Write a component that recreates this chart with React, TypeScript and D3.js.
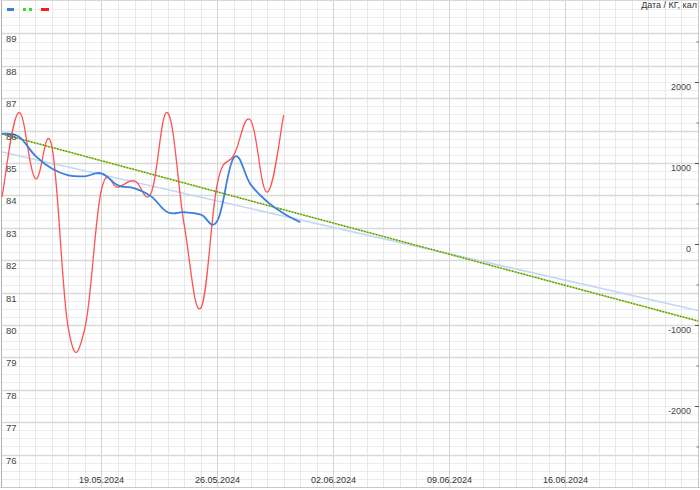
import React from "react";
import * as d3 from "d3";

// ---------- data ----------
const weightDates = [
  "13.05.2024", "14.05.2024", "15.05.2024", "16.05.2024", "17.05.2024", "18.05.2024",
  "19.05.2024", "20.05.2024", "21.05.2024", "22.05.2024", "23.05.2024", "24.05.2024",
  "25.05.2024", "26.05.2024", "27.05.2024", "28.05.2024", "29.05.2024", "30.05.2024",
  "31.05.2024",
];
const weightValues = [
  85.91, 85.82, 85.23, 84.83, 84.62, 84.59, 84.68, 84.31, 84.22, 83.97, 83.48, 83.48,
  83.41, 83.22, 85.17, 84.34, 83.81, 83.44, 83.17,
];
const calorieDates = weightDates.slice(0, 18);
const calorieValues = [
  580, 1620, 810, 1210, -1040, -1040, 670, 700, 780, 630, 1620, 230, -790, 750, 1100,
  1530, 640, 1590,
];
const trendDates = ["13.05.2024", "24.06.2024"];
const weightTrend = [85.34, 80.45];
const calorieTrend = [1358, -951];

const xTickLabels = ["19.05.2024", "26.05.2024", "02.06.2024", "09.06.2024", "16.06.2024"];
const leftTicks = [76, 77, 78, 79, 80, 81, 82, 83, 84, 85, 86, 87, 88, 89];
const rightTicks = [-2000, -1000, 0, 1000, 2000];
const title = "Дата / КГ, кал";

// ---------- helpers ----------
const parse = d3.timeParse("%d.%m.%Y");

// cubic bezier smoothing (intensity 0.2) as a d3 curve factory
function cubicCurve(context: any) {
  let pts: [number, number][] = [];
  const k = 0.2;
  return {
    areaStart() {},
    areaEnd() {},
    lineStart() {
      pts = [];
    },
    point(x: number, y: number) {
      pts.push([+x, +y]);
    },
    lineEnd() {
      const n = pts.length;
      if (!n) return;
      context.moveTo(pts[0][0], pts[0][1]);
      for (let j = 1; j < n; j++) {
        const prevPrev = pts[Math.max(0, j - 2)];
        const prev = pts[j - 1];
        const cur = pts[j];
        const next = pts[Math.min(n - 1, j + 1)];
        const pdx = (cur[0] - prevPrev[0]) * k;
        const pdy = (cur[1] - prevPrev[1]) * k;
        const cdx = (next[0] - prev[0]) * k;
        const cdy = (next[1] - prev[1]) * k;
        context.bezierCurveTo(
          prev[0] + pdx, prev[1] + pdy,
          cur[0] - cdx, cur[1] - cdy,
          cur[0], cur[1]
        );
      }
    },
  };
}

export default function App() {
  const W = 700;
  const H = 490;
  const x0 = 2;
  const x1 = 698;
  const yTop = 1;
  const yBot = 487;

  const x = d3
    .scaleTime()
    .domain([parse("13.05.2024")!, parse("24.06.2024")!])
    .range([x0, x1]);
  const yL = d3.scaleLinear().domain([75, 90]).range([yBot, yTop]);
  const yR = d3.scaleLinear().domain([-3000, 3000]).range([yBot, yTop]);

  const dayTicks = d3.timeDay.range(parse("14.05.2024")!, parse("24.06.2024")!);
  const weekTicks = xTickLabels.map((s) => parse(s)!);
  const minorY = d3.range(75.25, 90, 0.25).filter((v) => Math.abs(v - Math.round(v)) > 0.01);
  const majorY = d3.range(76, 90, 1);
  const rightMinor = d3.range(-2500, 3000, 500).filter((v) => v % 1000 !== 0);

  const weightLine = d3
    .line<number>()
    .x((_, i) => x(parse(weightDates[i])!))
    .y((d) => yL(d))
    .curve(cubicCurve as any);
  const calLine = d3
    .line<number>()
    .x((_, i) => x(parse(calorieDates[i])!))
    .y((d) => yR(d))
    .curve(cubicCurve as any);
  const wTrend = d3
    .line<number>()
    .x((_, i) => x(parse(trendDates[i])!))
    .y((d) => yL(d));
  const cTrend = d3
    .line<number>()
    .x((_, i) => x(parse(trendDates[i])!))
    .y((d) => yR(d));

  const font = "Liberation Sans, Arial, sans-serif";

  return (
    <svg
      width={W}
      height={H}
      style={{ position: "absolute", left: 0, top: 0, background: "#fff" }}
      fontFamily={font}
    >
      <rect x={0} y={0} width={W} height={H} fill="#fff" />
      {/* minor grid */}
      {minorY.map((v) => (
        <line key={"my" + v} x1={x0} x2={x1} y1={Math.round(yL(v)) + 0.5} y2={Math.round(yL(v)) + 0.5} stroke="#ececec" />
      ))}
      {dayTicks.map((d) => (
        <line key={"dx" + d.getTime()} x1={Math.round(x(d)) + 0.5} x2={Math.round(x(d)) + 0.5} y1={yTop} y2={yBot} stroke="#e8e8e8" />
      ))}
      {/* major grid */}
      {majorY.map((v) => (
        <line key={"My" + v} x1={x0} x2={x1} y1={Math.round(yL(v)) + 0.5} y2={Math.round(yL(v)) + 0.5} stroke="#d9d9d9" strokeWidth={1.6} />
      ))}
      {weekTicks.map((d) => (
        <line key={"wx" + d.getTime()} x1={Math.round(x(d)) + 0.5} x2={Math.round(x(d)) + 0.5} y1={yTop} y2={yBot} stroke="#d4d4d4" />
      ))}
      {/* frame */}
      <line x1={1.5} x2={1.5} y1={0} y2={yBot} stroke="#b0b0b0" />
      <line x1={0} x2={W} y1={yBot + 0.5} y2={yBot + 0.5} stroke="#c8c8c8" />
      <line x1={x1 + 0.5} x2={x1 + 0.5} y1={0} y2={yBot} stroke="#c8c8c8" />
      <line x1={0} x2={W} y1={0.5} y2={0.5} stroke="#d8d8d8" />

      {/* trend lines */}
      <path d={wTrend(weightTrend)!} fill="none" stroke="#c3d7f5" strokeWidth={1.6} />
      <path d={cTrend(calorieTrend)!} fill="none" stroke="#c6d64a" strokeWidth={1.4} />
      <path d={cTrend(calorieTrend)!} fill="none" stroke="#3f9a2a" strokeWidth={1.4} strokeDasharray="1.5,1.5" />

      {/* series */}
      <path d={calLine(calorieValues)!} fill="none" stroke="#ff5252" strokeWidth={1.3} />
      <path d={weightLine(weightValues)!} fill="none" stroke="#3a7fe0" strokeWidth={1.8} />

      {/* left axis labels */}
      {leftTicks.map((v) => (
        <text key={"lt" + v} x={6} y={yL(v) + 9} fontSize={9.5} fill="#444">
          {v}
        </text>
      ))}
      {/* right axis */}
      {rightTicks.map((v) => (
        <g key={"rt" + v}>
          <line x1={x1 - 3} x2={x1 + 1} y1={yR(v) + 0.5} y2={yR(v) + 0.5} stroke="#555" />
          <text x={691} y={yR(v) + 7.5} fontSize={9} fill="#444" textAnchor="end">
            {v}
          </text>
        </g>
      ))}
      {rightMinor.map((v) => (
        <line key={"rm" + v} x1={x1 - 1.5} x2={x1 + 1} y1={yR(v) + 0.5} y2={yR(v) + 0.5} stroke="#777" />
      ))}
      {/* x axis labels */}
      {weekTicks.map((d, i) => (
        <text key={"xl" + i} x={x(d)} y={483} fontSize={9} fill="#333" textAnchor="middle">
          {xTickLabels[i]}
        </text>
      ))}
      {/* title */}
      <text x={697} y={8} fontSize={9} fill="#333" textAnchor="end">
        {title}
      </text>
      {/* legend */}
      <line x1={7} x2={14} y1={9.5} y2={9.5} stroke="#3a7fe0" strokeWidth={3} />
      <rect x={23} y={8} width={3} height={3} fill="#2ee02e" />
      <rect x={29} y={8} width={3} height={3} fill="#2ee02e" />
      <line x1={41} x2={49} y1={9.5} y2={9.5} stroke="#ff1a1a" strokeWidth={3} />
    </svg>
  );
}
